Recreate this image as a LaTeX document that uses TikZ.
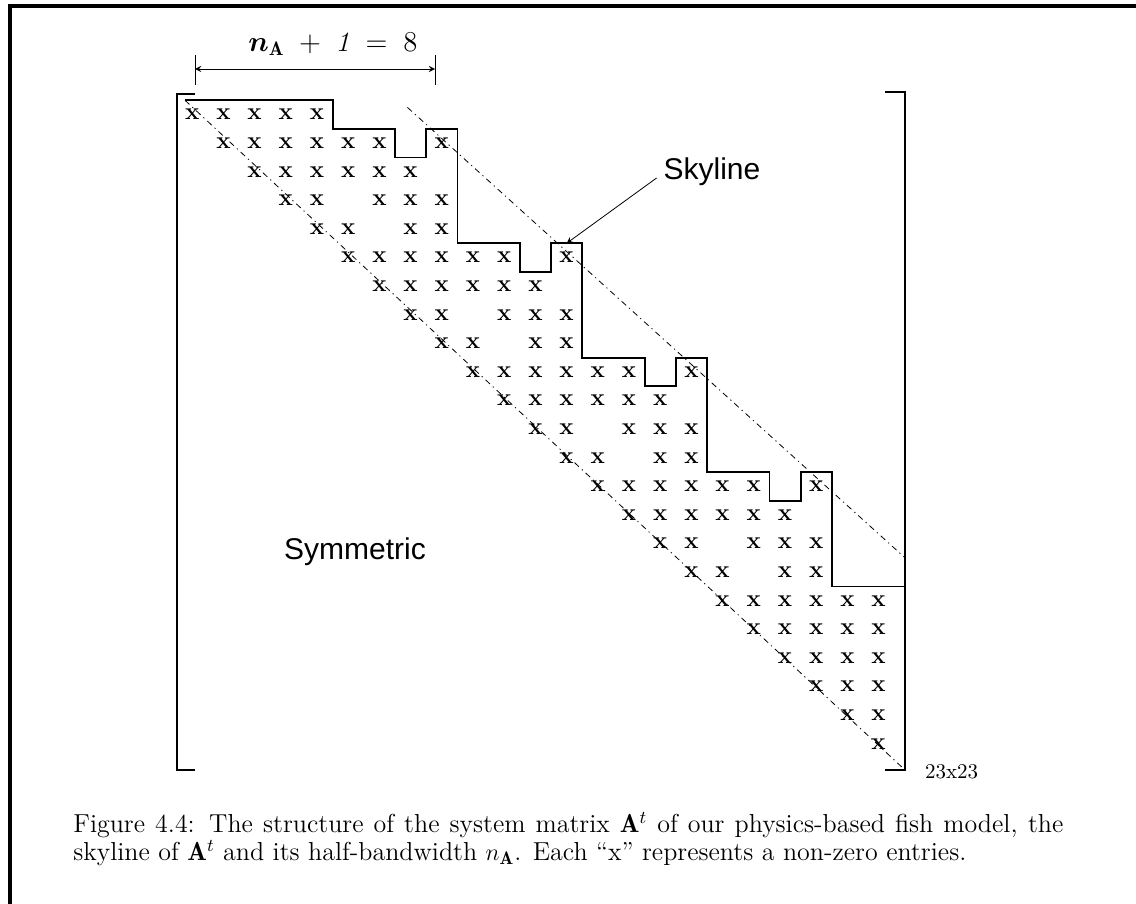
\documentclass[tikz,border=0pt]{standalone}
\usepackage{amssymb}
\usepackage{amsmath}
\usepackage{fontspec}
\newfontfamily\helv{Liberation Sans}
\usepackage{tikz}
\usetikzlibrary{positioning}

\tikzset{
  entry/.style={font=\bfseries\fontsize{12}{12}\selectfont, inner sep=0pt},
  band/.style={thin, dash pattern=on 3pt off 2pt on 0.6pt off 2pt},
  sky/.style={line width=0.9pt},
  bracket/.style={line width=0.8pt},
  tag/.style={font=\helv\fontsize{15}{15}\selectfont}
}

\begin{document}
\begin{tikzpicture}[x=0.5pt, y=-0.5pt, >=stealth]
  \useasboundingbox (0,0) rectangle (1136,904);
  % page frame, only top and left edge visible
  \draw[line width=1.6pt] (10,904) -- (10,6) -- (1136,6);

  % matrix brackets
  \draw[bracket] (195,94) -- (177,94) -- (177,770) -- (195,770);
  \draw[bracket] (885,92) -- (905,92) -- (905,770) -- (885,770);

  % half-bandwidth dimension
  \coordinate (dimL) at (195,69);
  \coordinate (dimR) at (435,69);
  \draw (dimL) ++(0,-14) -- ++(0,30);
  \draw (dimR) ++(0,-14) -- ++(0,30);
  \draw[<->] (dimL) -- (dimR);
  \node[font=\fontsize{14}{14}\selectfont] (bwlabel) at (333,44)
    {$\boldsymbol{n}_{\mathbf{A}} \;+\; \mathit{1} \;=\; 8$};

  % the 23x23 matrix, one unit = one row / column
  \begin{scope}[shift={(161,86)}, x=15.6pt, y=-14.3pt]
    % skyline
    \draw[sky] (0.77,0.5) -- (5.5,0.5) -- (5.5,1.5) -- (7.5,1.5) -- (7.5,2.5)
      -- (8.5,2.5) -- (8.5,1.5) -- (9.5,1.5) -- (9.5,5.5) -- (11.5,5.5)
      -- (11.5,6.5) -- (12.5,6.5) -- (12.5,5.5) -- (13.5,5.5) -- (13.5,9.5)
      -- (15.5,9.5) -- (15.5,10.5) -- (16.5,10.5) -- (16.5,9.5) -- (17.5,9.5)
      -- (17.5,13.5) -- (19.5,13.5) -- (19.5,14.5) -- (20.5,14.5) -- (20.5,13.5)
      -- (21.5,13.5) -- (21.5,17.5) -- (23.85,17.5);
    % main diagonal and band edge
    \draw[band] (0.77,0.5) -- (23.85,23.92);
    \draw[band] (7.9,0.75) -- (23.85,16.5);
    % non-zero entries
    \foreach \r/\cols in {1/{1,2,3,4,5}, 2/{2,3,4,5,6,7,9}, 3/{3,4,5,6,7,8},
        4/{4,5,7,8,9}, 5/{5,6,8,9}, 6/{6,7,8,9,10,11,13}, 7/{7,8,9,10,11,12},
        8/{8,9,11,12,13}, 9/{9,10,12,13}, 10/{10,11,12,13,14,15,17},
        11/{11,12,13,14,15,16}, 12/{12,13,15,16,17}, 13/{13,14,16,17},
        14/{14,15,16,17,18,19,21}, 15/{15,16,17,18,19,20}, 16/{16,17,19,20,21},
        17/{17,18,20,21}, 18/{18,19,20,21,22,23}, 19/{19,20,21,22,23},
        20/{20,21,22,23}, 21/{21,22,23}, 22/{22,23}, 23/{23}} {
      \foreach \c in \cols {
        \node[entry] (e\r-\c) at (\c,\r) {x};
      }
    }
    \coordinate (skytip) at (13,5.5);
  \end{scope}

  % labels
  \node[tag] (skylabel) at (712,172) {Skyline};
  \draw[->] ([yshift=-3pt]skylabel.west) -- (skytip);
  \node[tag] (symlabel) at (355,552) {Symmetric};
  \node[anchor=west, font=\fontsize{10.5}{10.5}\selectfont] (sizelabel) at (918,772) {23x23};

  % caption
  \node[anchor=north west, inner sep=0pt, text width=495pt, align=justify,
        font=\fontsize{13}{14}\selectfont] (caption) at (73,812)
    {Figure 4.4: The structure of the system matrix $\mathbf{A}^t$ of our
     physics-based fish model, the\linebreak skyline of $\mathbf{A}^t$ and its
     half-bandwidth $n_{\mathbf{A}}$. Each ``x'' represents a non-zero entries.};
\end{tikzpicture}
\end{document}
